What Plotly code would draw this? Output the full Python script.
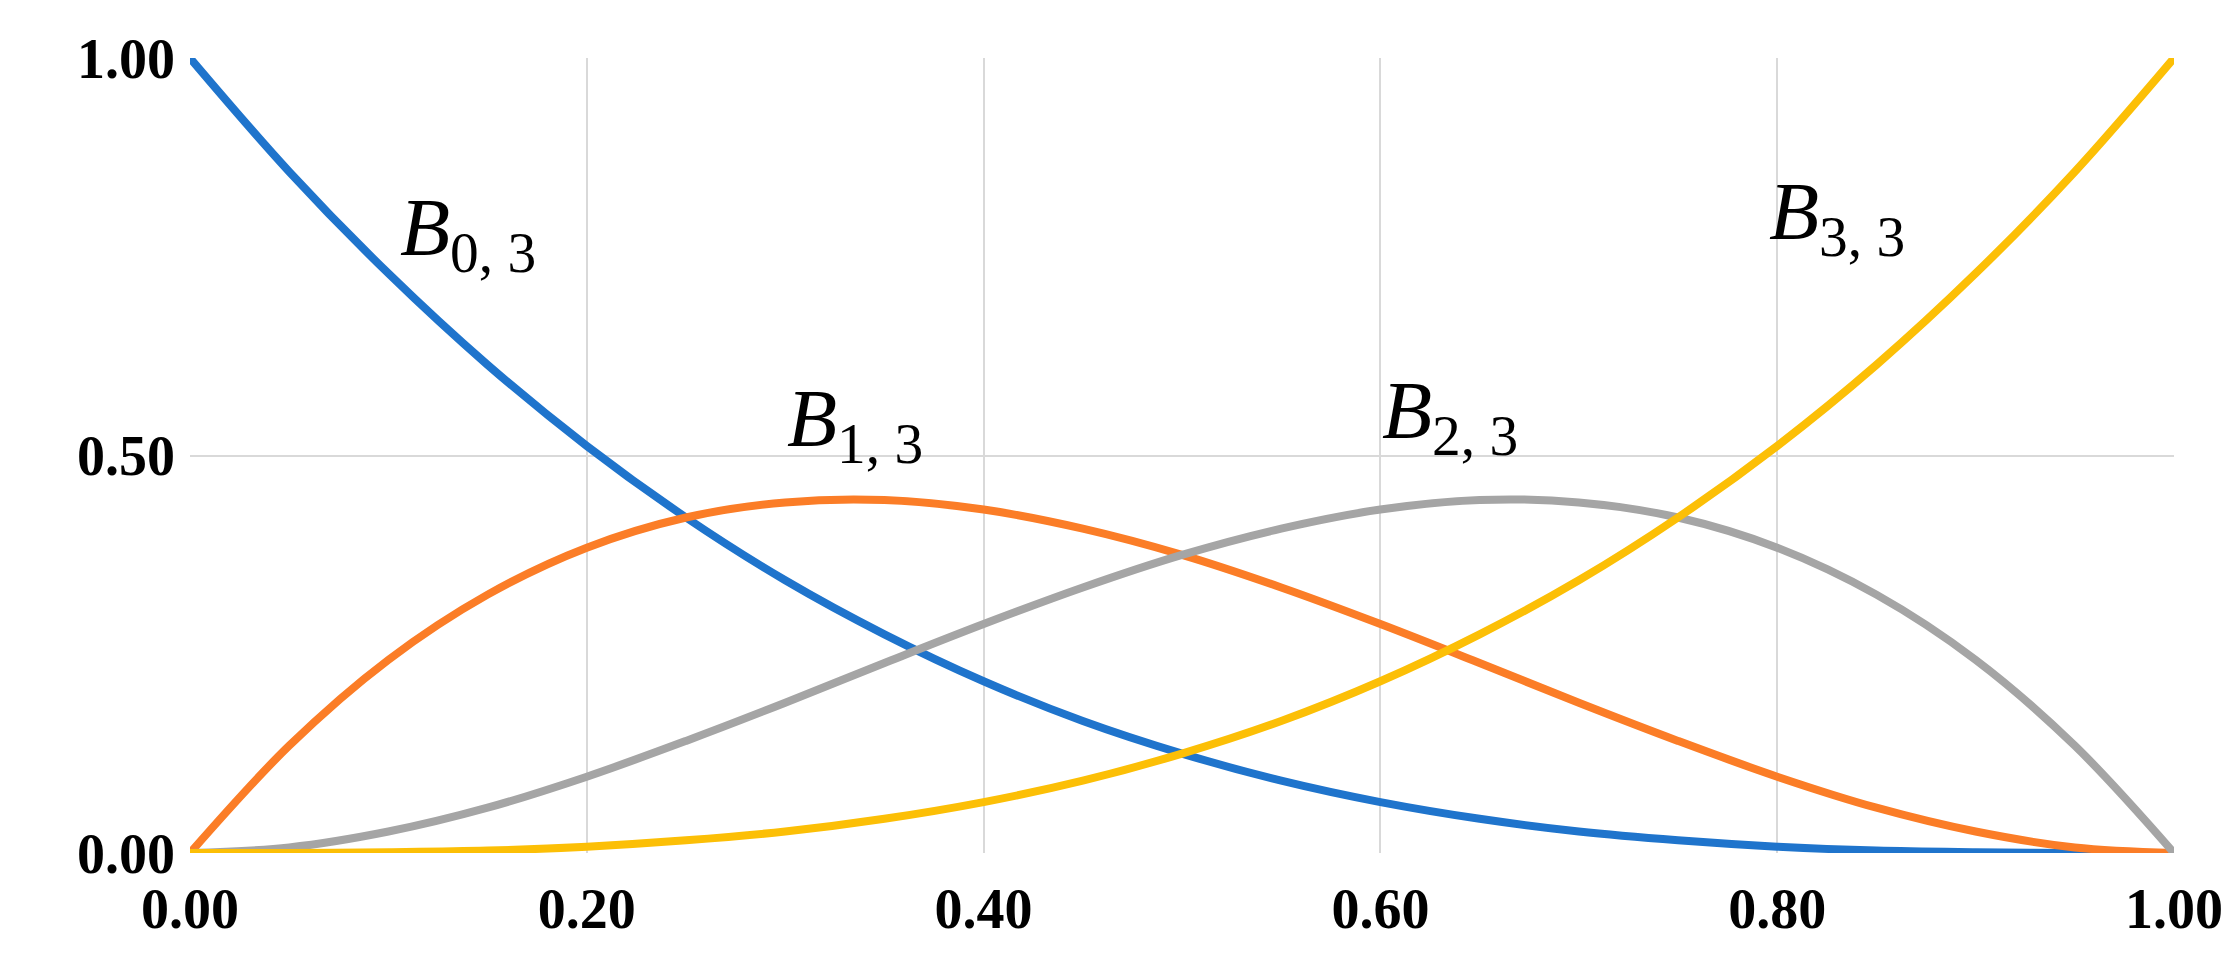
import plotly.graph_objects as go

t = [0, .05, .1, .15, .2, .25, .3, .35, .4, .45, .5, .55, .6, .65, .7, .75, .8, .85, .9, .95, 1]
b0 = [1, .857, .729, .614, .512, .422, .343, .275, .216, .166, .125, .091, .064, .043, .027, .016, .008, .003, .001, .000, 0]
b1 = [0, .135, .243, .325, .384, .422, .441, .444, .432, .408, .375, .334, .288, .239, .189, .141, .096, .057, .027, .007, 0]
b2 = [0, .007, .027, .057, .096, .141, .189, .239, .288, .334, .375, .408, .432, .444, .441, .422, .384, .325, .243, .135, 0]
b3 = [0, .000, .001, .003, .008, .016, .027, .043, .064, .091, .125, .166, .216, .275, .343, .422, .512, .614, .729, .857, 1]
names = ["0, 3", "1, 3", "2, 3", "3, 3"]
colors = ["#1f74cc", "#fb7d27", "#a5a5a5", "#fcbf06"]
label_pos = [(0.105, 0.78), (0.3, 0.54), (0.6, 0.55), (0.795, 0.80)]

fig = go.Figure()
for ys, c, n in zip([b0, b1, b2, b3], colors, names):
    fig.add_trace(go.Scatter(x=t, y=ys, mode="lines", line=dict(color=c, width=8, shape="spline"),
                             name=n, showlegend=False))
for (x, y), n in zip(label_pos, names):
    fig.add_annotation(x=x, y=y, xanchor="left", yanchor="middle", showarrow=False,
                       text=f"<i>B</i><sub>{n}</sub>",
                       font=dict(family="Liberation Serif", size=82, color="black", weight="normal"))

ax = dict(showgrid=True, gridcolor="#d9d9d9", gridwidth=2, zeroline=False, showline=False,
          tickformat=".2f",
          tickfont=dict(family="Liberation Serif", size=56, color="black", weight="bold"))
fig.update_layout(
    width=2238, height=967, plot_bgcolor="white", paper_bgcolor="white",
    margin=dict(l=182, r=72, t=50, b=122),
    xaxis=dict(ax, range=[0, 1], dtick=0.2, ticklabelstandoff=18),
    yaxis=dict(ax, range=[0, 1], dtick=0.5, ticklabelstandoff=14),
)
fig.write_html("out.html")
